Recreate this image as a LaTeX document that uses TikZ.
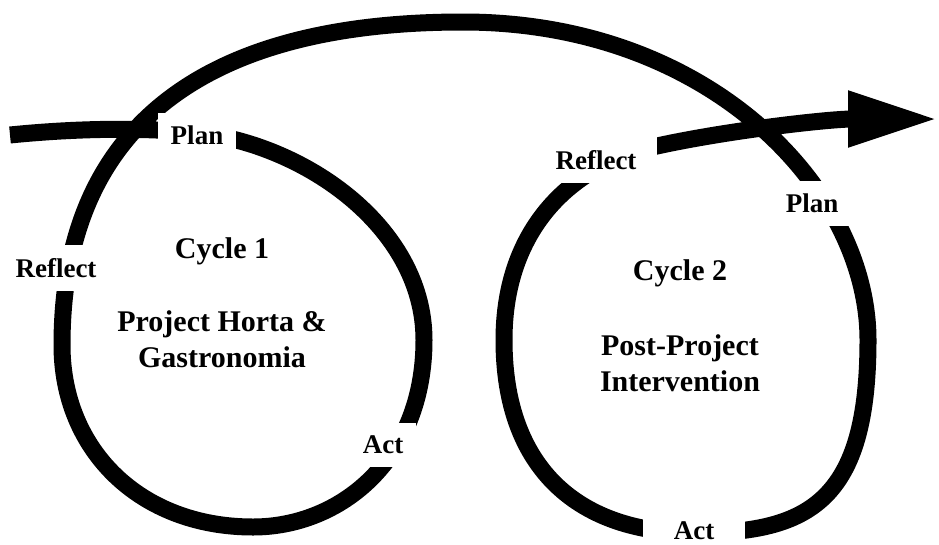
\documentclass[tikz,border=0pt]{standalone}
\usepackage{fontspec}
\setmainfont{Liberation Serif}
\usetikzlibrary{arrows.meta,positioning}

\begin{document}
\begin{tikzpicture}[
        x=1pt, y=-1pt,
        spiral/.style={line width=17pt, black},
        stage/.style={fill=white, inner sep=13pt, font=\fontsize{27}{32}\selectfont\bfseries},
        title/.style={align=center, inner sep=0pt, font=\fontsize{30}{36}\selectfont\bfseries},
    ]
    \useasboundingbox (0,0) rectangle (939,544);
    % points the spiral passes through
    \coordinate (start) at (10,135);
    \coordinate (c1top) at (190,132);
    \coordinate (c1right) at (424,340);
    \coordinate (c1bottom) at (253,527);
    \coordinate (c1left) at (62,345);
    \coordinate (peak) at (463,22);
    \coordinate (c2right) at (868,340);
    \coordinate (c2bottom) at (695,533);
    \coordinate (c2left) at (504,340);
    \coordinate (c2exit) at (657,146);
    \coordinate (tip) at (938,119);
    % one thick spiral for both cycles
    \draw[spiral, -{Triangle[length=90pt, width=52pt]}] (start)
        .. controls (80,128) and (140,128) .. (c1top)
        .. controls (300,141) and (424,225) .. (c1right)
        .. controls (424,460) and (340,527) .. (c1bottom)
        .. controls (140,527) and (62,450) .. (c1left)
        .. controls (62,130) and (200,22) .. (peak)
        .. controls (710,22) and (868,190) .. (c2right)
        .. controls (868,500) and (810,533) .. (c2bottom)
        .. controls (580,533) and (504,470) .. (c2left)
        .. controls (504,230) and (570,165) .. (c2exit)
        .. controls (730,130) and (830,119) .. (tip);
    % stage labels cut the line
    \node[stage] (plan1) at (197,135) {Plan};
    \node[stage] (act1) at (383,445) {Act};
    \node[stage] (reflect1) at (56,268) {Reflect};
    \node[stage, minimum width=122pt] (reflect2) at (596,160) {Reflect};
    \node[stage] (plan2) at (812,203) {Plan};
    \node[stage, minimum width=102pt] (act2) at (694,531) {Act};
    % cycle titles
    \node[title] (cyc1) at (222,251) {Cycle 1};
    \node[title, below=46pt of cyc1] (proj1) {Project Horta \&\\Gastronomia};
    \node[title] (cyc2) at (680,273) {Cycle 2};
    \node[title, below=48pt of cyc2] (proj2) {Post-Project\\Intervention};
\end{tikzpicture}
\end{document}
